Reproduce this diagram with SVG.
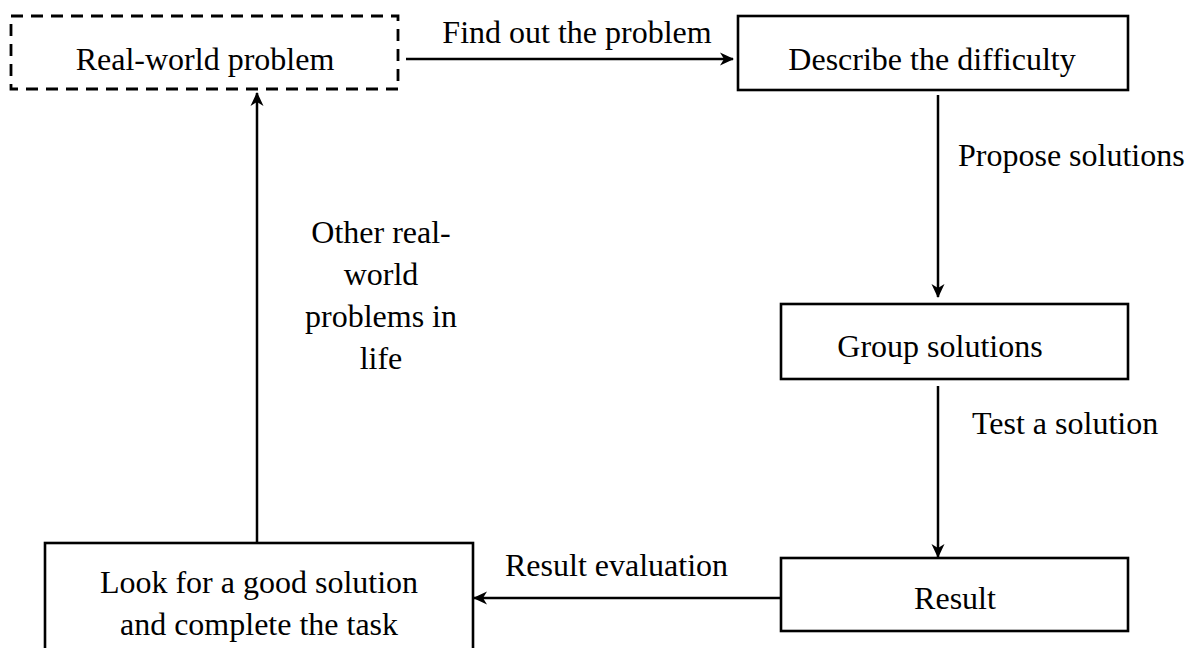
<svg xmlns="http://www.w3.org/2000/svg" width="1186" height="648" viewBox="0 0 1186 648">
<style>
.box{fill:#fff;stroke:#000;stroke-width:2.6}
.dash{stroke-dasharray:12 8;stroke-width:2.8}
.t{font-family:"Liberation Serif","Times New Roman",serif;font-size:32px;fill:#000}
.c{text-anchor:middle}
.ln{stroke:#000;stroke-width:2.5;fill:none;marker-end:url(#ah)}
</style>
<defs>
<marker id="ah" viewBox="0 0 14 14" refX="13" refY="7" markerWidth="14" markerHeight="14" markerUnits="userSpaceOnUse" orient="auto">
<path d="M0,0.5 L14,7 L0,13.5 L4,7 Z" fill="#000"/>
</marker>
</defs>
<g id="connectors">
<line class="ln" x1="406" y1="59" x2="733" y2="59"/>
<line class="ln" x1="938" y1="95" x2="938" y2="297"/>
<line class="ln" x1="938" y1="386" x2="938" y2="557"/>
<line class="ln" x1="781" y1="598" x2="474" y2="598"/>
<line class="ln" x1="257" y1="543" x2="257" y2="93"/>
<text class="t c" x="577" y="43">Find out the problem</text>
<text class="t" x="958" y="166">Propose solutions</text>
<text class="t" x="972" y="434">Test a solution</text>
<text class="t" x="505" y="576">Result evaluation</text>
<text class="t c" x="381" y="243">Other real-</text>
<text class="t c" x="381" y="285">world</text>
<text class="t c" x="381" y="327">problems in</text>
<text class="t c" x="381" y="369">life</text>
</g>
<g id="real-world">
<rect class="box dash" x="11" y="16" width="387" height="73"/>
<text class="t c" x="205" y="70">Real-world problem</text>
</g>
<g id="describe">
<rect class="box" x="738" y="16" width="390" height="74"/>
<text class="t c" x="932" y="70">Describe the difficulty</text>
</g>
<g id="group">
<rect class="box" x="781" y="304" width="347" height="75"/>
<text class="t c" x="940" y="357">Group solutions</text>
</g>
<g id="result">
<rect class="box" x="781" y="558" width="347" height="73"/>
<text class="t c" x="955" y="609">Result</text>
</g>
<g id="look">
<rect class="box" x="45" y="543" width="428" height="120"/>
<text class="t c" x="259" y="593">Look for a good solution</text>
<text class="t c" x="259" y="635">and complete the task</text>
</g>
</svg>
